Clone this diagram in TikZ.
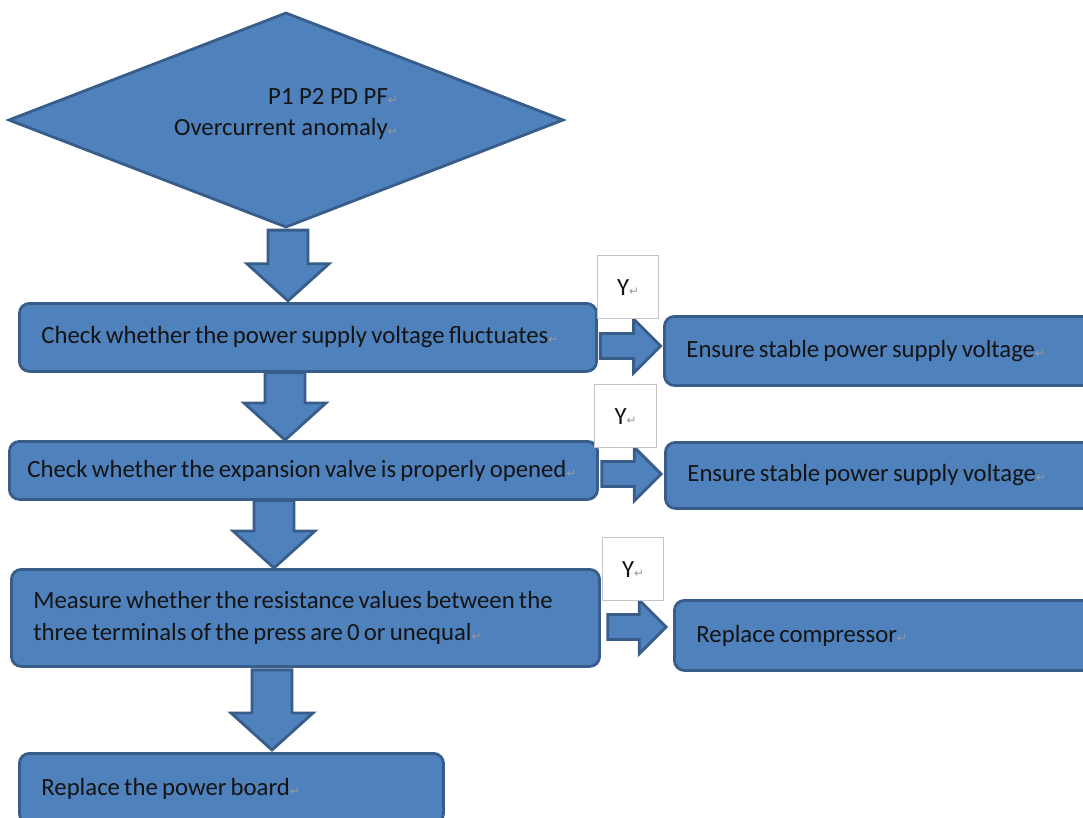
\documentclass[tikz,border=0pt]{standalone}
\usepackage{fontspec}
\setmainfont{Carlito}
\newfontfamily\markfont{DejaVu Sans}
\usepackage{tikz}
\usetikzlibrary{positioning,calc,shapes.geometric}
\usepackage{xcolor}
\definecolor{BoxBlue}{HTML}{4F81BD}
\definecolor{EdgeBlue}{HTML}{385D8A}
\definecolor{MarkGray}{HTML}{9A9A9A}
\definecolor{TextBlack}{HTML}{141414}
\definecolor{YEdge}{HTML}{C4C4C4}
\newcommand{\pmark}{{\markfont\fontsize{8.5pt}{8.5pt}\selectfont\textcolor{MarkGray}{↵}}}
% fat arrow pointing down, from one node to the next, at a given x
\newcommand{\downblock}[4]{%
  \draw[blockarrow] let \p1=(#1,0), \p2=(#2.south), \p3=(#3.north) in
    (\x1-0.5cm,\y2-#4) -- (\x1+0.5cm,\y2-#4) -- (\x1+0.5cm,\y3+#4+0.925cm)
    -- (\x1+1.025cm,\y3+#4+0.925cm) -- (\x1,\y3+#4) -- (\x1-1.025cm,\y3+#4+0.925cm)
    -- (\x1-0.5cm,\y3+#4+0.925cm) -- cycle;}
% fat arrow pointing right, at a given y
\newcommand{\rightblock}[4]{%
  \draw[blockarrow] let \p1=(#2.east), \p2=(#3.west), \p3=(0,#1) in
    (\x1+#4,\y3+0.3125cm) -- (\x2-#4-0.675cm,\y3+0.3125cm) -- (\x2-#4-0.675cm,\y3+0.675cm)
    -- (\x2-#4,\y3) -- (\x2-#4-0.675cm,\y3-0.675cm) -- (\x2-#4-0.675cm,\y3-0.3125cm)
    -- (\x1+#4,\y3-0.3125cm) -- cycle;}

\begin{document}
\begin{tikzpicture}[x=0.025cm, y=-0.025cm,
  every node/.style={font=\fontsize{17.6pt}{23pt}\selectfont, text=TextBlack},
  stepbox/.style={draw=EdgeBlue, fill=BoxBlue, line width=2pt, rounded corners=0.25cm,
    anchor=north west, align=left, inner xsep=0.55cm, inner ysep=0pt,
    execute at begin node={\spaceskip=0.17em\relax}},
  decision/.style={diamond, aspect=2.58, draw=EdgeBlue, fill=BoxBlue, line width=2pt,
    inner sep=0pt, minimum width=13.875cm, minimum height=5.375cm, align=right},
  ybox/.style={draw=YEdge, fill=white, line width=0.8pt, anchor=north west,
    minimum width=1.525cm, minimum height=1.575cm},
  blockarrow/.style={draw=EdgeBlue, fill=BoxBlue, line width=2pt}]
\useasboundingbox (0,0) rectangle (1083,817);
\clip (0,0) rectangle (1083,817);

\node[decision, text depth=0.42cm, font=\fontsize{17.6pt}{22pt}\selectfont] (dec) at (286,120)
  {P1 P2 PD PF\pmark\\Overcurrent anomaly\pmark};

\node[stepbox, text width=13.325cm, minimum height=1.7cm] (chk1) at (18,302)
  {Check whether the power supply voltage fluctuates\pmark};
\node[stepbox, inner xsep=0.45cm, text width=13.8cm, minimum height=1.45cm] (chk2) at (8,440)
  {Check whether the expansion valve is properly opened\pmark};
\node[stepbox, text width=13.6cm, minimum height=2.425cm] (chk3) at (10,568)
  {Measure whether the resistance values between the\\three terminals of the press are 0 or unequal\pmark};
\node[stepbox, text width=9.5cm, minimum height=1.75cm] (board) at (18,752)
  {Replace the power board\pmark};

\node[stepbox, text width=9.7cm, minimum height=1.725cm] (res1) at (663,315)
  {Ensure stable power supply voltage\pmark};
\node[stepbox, text width=9.7cm, minimum height=1.65cm] (res2) at (664,441)
  {Ensure stable power supply voltage\pmark};
\node[stepbox, text width=9.5cm, minimum height=1.75cm] (res3) at (673,599)
  {Replace compressor\pmark};

\downblock{288}{dec}{chk1}{0.03cm}
\downblock{285}{chk1}{chk2}{0cm}
\downblock{274}{chk2}{chk3}{0cm}
\downblock{272}{chk3}{board}{0.05cm}

\rightblock{346}{chk1}{res1}{0.06cm}
\rightblock{474}{chk2}{res2}{0.07cm}
\rightblock{627}{chk3}{res3}{0.17cm}

\node[ybox] (y1) at (597,255) {Y\pmark};
\node[ybox, minimum width=1.55cm] (y2) at (594,384) {Y\pmark};
\node[ybox] (y3) at (602,537) {Y\pmark};
\end{tikzpicture}
\end{document}
